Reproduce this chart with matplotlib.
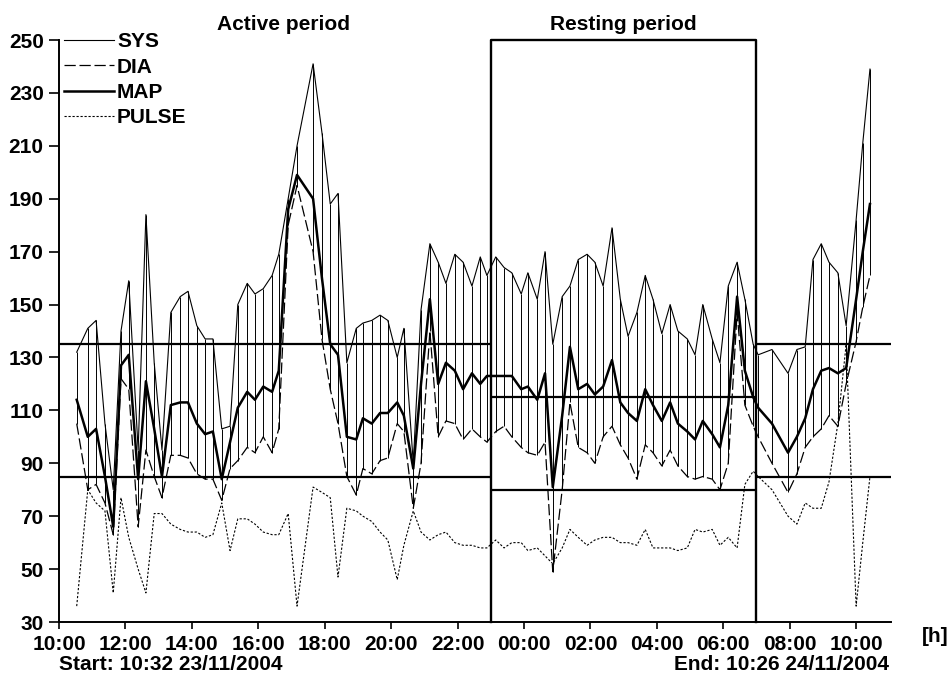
import matplotlib
matplotlib.use("Agg")
import matplotlib.pyplot as plt
import numpy as np

# ambulatory blood pressure record, 23/11/2004 10:32 -> 24/11/2004 10:26
times = ["10:32", "10:52", "11:07", "11:23", "11:38", "11:52", "12:06", "12:23", "12:37", "12:52",
         "13:06", "13:22", "13:39", "13:53", "14:09", "14:24", "14:38", "14:54", "15:09", "15:23",
         "15:40", "15:54", "16:09", "16:25", "16:37", "16:54", "17:10", "17:39", "17:55", "18:10",
         "18:24", "18:40", "18:57", "19:09", "19:25", "19:40", "19:54", "20:11", "20:23", "20:40",
         "20:54", "21:10", "21:25", "21:39", "21:55", "22:10", "22:26", "22:41", "22:53", "23:09",
         "23:24", "23:38", "23:55", "00:07", "00:24", "00:38", "00:52", "01:09", "01:23", "01:38",
         "01:54", "02:08", "02:23", "02:39", "02:54", "03:08", "03:24", "03:39", "03:53", "04:09",
         "04:24", "04:38", "04:55", "05:09", "05:23", "05:40", "05:54", "06:09", "06:25", "06:39",
         "06:54", "07:03", "07:28", "07:57", "08:13", "08:28", "08:42", "08:57", "09:11", "09:27",
         "09:42", "10:00", "10:12", "10:25"]
sys_vals = [132, 141, 144, 105, 80, 140, 159, 95, 184, 128,
            95, 147, 153, 155, 142, 137, 137, 103, 104, 150,
            158, 154, 156, 161, 169, 190, 210, 241, 215, 188,
            192, 128, 141, 143, 144, 146, 144, 130, 141, 90,
            148, 173, 166, 158, 169, 166, 157, 168, 161, 168,
            164, 162, 154, 162, 152, 170, 135, 153, 157, 167,
            169, 166, 157, 179, 152, 138, 147, 161, 152, 139,
            150, 140, 137, 131, 150, 137, 128, 157, 166, 152,
            135, 131, 133, 124, 133, 134, 167, 173, 166, 162,
            142, 182, 211, 239]
dia_vals = [105, 80, 82, 75, 63, 122, 118, 66, 95, 85,
            77, 93, 93, 92, 86, 84, 84, 76, 88, 91,
            96, 94, 100, 94, 103, 180, 195, 170, 137, 118,
            105, 85, 78, 88, 86, 91, 92, 105, 102, 73,
            90, 140, 100, 106, 105, 99, 103, 100, 98, 102,
            104, 100, 96, 94, 93, 98, 49, 80, 113, 96,
            94, 90, 100, 104, 97, 92, 84, 97, 94, 89,
            95, 89, 85, 84, 85, 84, 80, 90, 147, 112,
            104, 100, 90, 79, 86, 96, 100, 103, 108, 104,
            120, 136, 149, 161]
map_vals = [114, 100, 103, 85, 66, 127, 131, 84, 121, 103,
            85, 112, 113, 113, 105, 101, 102, 84, 98, 111,
            117, 114, 119, 117, 125, 186, 199, 190, 160, 135,
            131, 100, 99, 107, 105, 109, 109, 113, 108, 88,
            120, 152, 120, 128, 125, 118, 124, 120, 123, 123,
            123, 123, 118, 119, 114, 124, 81, 108, 134, 118,
            120, 116, 119, 129, 113, 109, 106, 118, 112, 106,
            113, 105, 102, 99, 106, 101, 96, 112, 153, 125,
            115, 111, 105, 94, 100, 107, 118, 125, 126, 124,
            126, 152, 170, 188]
pulse_vals = [36, 80, 75, 72, 41, 77, 62, 50, 41, 71,
              71, 67, 65, 64, 64, 62, 63, 75, 57, 69,
              69, 67, 64, 63, 63, 71, 36, 81, 79, 77,
              47, 73, 72, 70, 68, 64, 61, 46, 59, 72,
              64, 61, 63, 64, 60, 59, 59, 58, 58, 61,
              58, 60, 60, 57, 58, 55, 52, 58, 65, 62,
              59, 61, 62, 62, 60, 60, 59, 65, 58, 58,
              58, 57, 58, 65, 64, 65, 59, 62, 58, 82,
              87, 85, 80, 70, 67, 75, 73, 73, 83, 105,
              135, 36, 60, 85]

# limits per period: active / resting / active (axis ends at 11:03)
period_start = ["10:00", "23:00", "07:00"]
period_end = ["23:00", "07:00", "11:03"]
upper_limit = [135, 115, 135]
lower_limit = [85, 80, 85]

tick_labels = ["10:00", "12:00", "14:00", "16:00", "18:00", "20:00", "22:00",
               "00:00", "02:00", "04:00", "06:00", "08:00", "10:00"]


def to_hours(clock):
    # hours after 10:00 on the first day, rolling over midnight
    out, prev = [], -1
    for c in clock:
        hh, mm = c.split(":")
        h = (int(hh) + int(mm) / 60 - 10) % 24
        if h < prev:
            h += 24
        out.append(h)
        prev = h
    return np.array(out)


t = to_hours(times)
t0 = to_hours(period_start)
t1 = to_hours(period_end)
t1[t1 <= t0] += 24
ticks = np.arange(len(tick_labels)) * 2.0
x_end = t1[-1]

plt.rcParams["font.family"] = ["Liberation Sans", "DejaVu Sans"]
plt.rcParams["font.weight"] = "bold"
FS = 15

fig = plt.figure(figsize=(9.52, 6.77), dpi=100)
ax = fig.add_axes([59 / 952, 55 / 677, 832 / 952, 582 / 677])

ax.vlines(t, dia_vals, sys_vals, color="k", lw=0.7)
ax.plot(t, sys_vals, color="k", lw=0.8, label="SYS")
ax.plot(t, dia_vals, color="k", lw=0.9, dashes=(9, 3), label="DIA")
ax.plot(t, map_vals, color="k", lw=1.8, label="MAP")
ax.plot(t, pulse_vals, color="k", lw=0.8, dashes=(2, 1.6), label="PULSE")

for a, b, hi, lo in zip(t0, t1, upper_limit, lower_limit):
    ax.hlines([hi, lo], a, b, color="k", lw=1.6)

# resting period box
ax.plot([t0[1], t0[1], t1[1], t1[1]], [30, 250, 250, 30], color="k", lw=1.7, clip_on=False)

ax.set_xlim(0, x_end)
ax.set_ylim(30, 250)
ax.set_xticks(ticks)
ax.set_xticklabels(tick_labels)
ax.set_yticks(np.arange(30, 251, 20))
ax.tick_params(axis="x", direction="out", length=5, width=1.2, pad=4, labelsize=FS)
ax.tick_params(axis="y", direction="out", length=7, width=1.2, pad=4, labelsize=FS)
for s in ["top", "right"]:
    ax.spines[s].set_visible(False)
for s in ["left", "bottom"]:
    ax.spines[s].set_linewidth(1.4)

ax.legend(loc="upper left", bbox_to_anchor=(0.006, 1.013), frameon=False, fontsize=FS,
          handlelength=2.4, handletextpad=0.15, labelspacing=0.3, borderpad=0, borderaxespad=0)

trans = ax.get_xaxis_transform()
ax.text(6.75, 1.027, "Active period", transform=trans, ha="center", va="center", fontsize=FS)
ax.text(17.0, 1.027, "Resting period", transform=trans, ha="center", va="center", fontsize=FS)
fig.text(935 / 952, 1 - 636 / 677, "[h]", ha="center", va="center", fontsize=FS)
fig.text(59 / 952, 1 - 664 / 677, "Start: 10:32 23/11/2004", ha="left", va="center", fontsize=FS)
fig.text(889 / 952, 1 - 664 / 677, "End: 10:26 24/11/2004", ha="right", va="center", fontsize=FS)

fig.savefig("out.png", dpi=100)
